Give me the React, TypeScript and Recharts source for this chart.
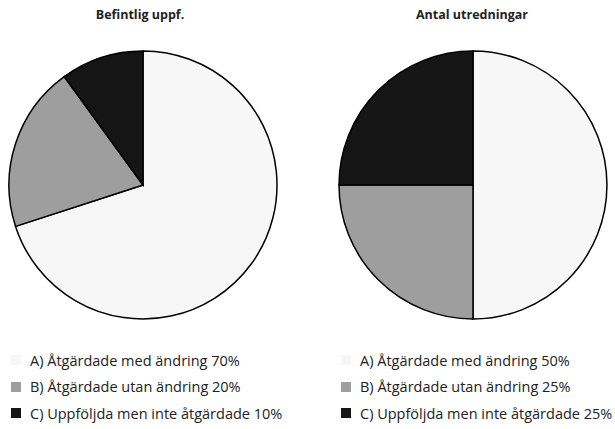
import React from "react";
import { PieChart, Pie, Cell } from "recharts";

const categories = [
  "A) Åtgärdade med ändring",
  "B) Åtgärdade utan ändring",
  "C) Uppföljda men inte åtgärdade",
];
const leftValues = [70, 20, 10];
const rightValues = [50, 25, 25];
const titles = ["Befintlig uppf.", "Antal utredningar"];
const colors = ["#f7f7f7", "#9e9e9e", "#151515"];

const leftData = categories.map((name, i) => ({ name, value: leftValues[i] }));
const rightData = categories.map((name, i) => ({ name, value: rightValues[i] }));

const font = "'Open Sans', sans-serif";

function LegendBlock({ data, left }: { data: { name: string; value: number }[]; left: number }) {
  return (
    <div style={{ position: "absolute", left, top: 347 }}>
      {data.map((d, i) => (
        <div
          key={d.name}
          style={{ display: "flex", alignItems: "center", height: 26.5, fontFamily: font, fontSize: 14.5, color: "#222" }}
        >
          <div style={{ width: 10, height: 10, background: colors[i], marginRight: 9 }} />
          <span>{`${d.name} ${d.value}%`}</span>
        </div>
      ))}
    </div>
  );
}

export default function App() {
  return (
    <div style={{ position: "absolute", left: 0, top: 0, width: 615, height: 429, background: "#fff" }}>
      <PieChart width={615} height={429} margin={{ top: 0, right: 0, bottom: 0, left: 0 }}>
        <text x={140} y={19} textAnchor="middle" fontFamily={font} fontWeight="bold" fontSize={12.5} fill="#222">
          {titles[0]}
        </text>
        <text x={472} y={19} textAnchor="middle" fontFamily={font} fontWeight="bold" fontSize={12.5} fill="#222">
          {titles[1]}
        </text>
        <Pie
          data={leftData}
          dataKey="value"
          cx={143}
          cy={185}
          outerRadius={134}
          startAngle={90}
          endAngle={-270}
          stroke="#000"
          strokeWidth={1.5}
          isAnimationActive={false}
        >
          {leftData.map((d, i) => (
            <Cell key={d.name} fill={colors[i]} />
          ))}
        </Pie>
        <Pie
          data={rightData}
          dataKey="value"
          cx={473}
          cy={185}
          outerRadius={134}
          startAngle={90}
          endAngle={-270}
          stroke="#000"
          strokeWidth={1.5}
          isAnimationActive={false}
        >
          {rightData.map((d, i) => (
            <Cell key={d.name} fill={colors[i]} />
          ))}
        </Pie>
      </PieChart>
      <LegendBlock data={leftData} left={11} />
      <LegendBlock data={rightData} left={341} />
    </div>
  );
}
